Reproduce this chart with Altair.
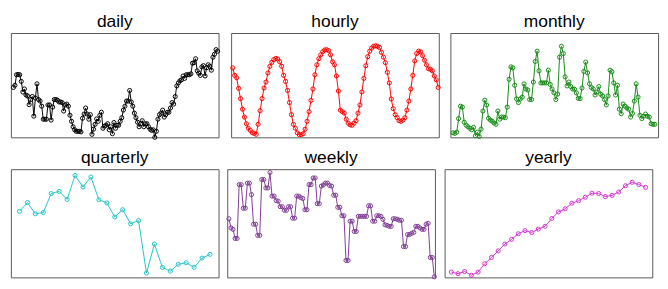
import altair as alt
import pandas as pd

daily = [165,172,207,208,207,185,150,160,140,137,108,125,135,70,130,177,125,120,103,60,60,60,107,107,57,100,125,125,123,117,117,115,87,107,110,103,73,53,35,25,20,20,20,18,63,77,97,77,60,75,10,27,43,61,53,73,83,30,37,40,45,25,35,12,49,30,40,40,53,65,90,103,120,120,155,117,103,80,65,50,35,45,55,35,45,45,35,27,23,25,0,20,60,75,80,90,67,75,83,83,97,115,110,135,170,180,187,190,203,195,207,207,207,210,245,247,260,220,212,205,233,237,203,230,240,235,222,265,275,290,285]
hourly = [230,205,197,162,128,93,67,45,30,23,15,13,10,43,88,128,163,183,213,235,248,257,261,259,250,235,205,185,155,115,75,43,30,15,9,9,12,27,53,85,122,160,207,240,260,273,283,289,290,287,273,250,240,203,153,90,85,80,60,47,41,40,47,55,80,107,150,195,237,267,285,295,301,303,301,297,281,265,247,215,180,127,95,75,65,55,53,57,65,90,120,160,205,253,277,285,283,270,255,240,227,225,220,203,190,165]
monthly = [15,13,17,62,103,100,50,40,35,30,25,33,5,17,3,27,87,123,107,63,57,53,47,43,87,60,67,67,65,100,192,233,230,172,127,115,127,133,177,160,157,125,125,183,251,285,220,180,180,180,180,222,175,160,147,125,143,265,301,277,200,170,183,168,160,159,147,129,128,163,218,249,213,177,165,160,140,150,168,143,137,125,107,137,222,217,180,140,172,93,78,110,103,97,93,67,79,120,177,133,73,62,70,77,70,67,45,43,43]
quarterly = [212,240,204,208,269,276,250,327,290,322,249,239,194,217,172,182,14,107,32,20,42,47,32,62,74]
weekly = [192,162,157,127,127,305,305,227,227,310,310,272,174,174,137,137,322,322,294,294,345,267,267,252,250,232,232,220,220,232,232,194,194,267,267,262,259,222,222,305,305,327,327,242,242,300,304,310,310,302,300,270,270,230,230,202,202,54,54,184,184,150,150,200,200,200,200,200,235,235,184,184,202,202,200,190,172,170,167,167,192,192,190,187,187,100,100,140,140,144,147,167,167,162,157,157,174,177,64,64,0]
yearly = [17,12,19,7,17,44,64,85,107,122,140,150,144,155,164,189,210,220,238,246,257,270,269,259,263,274,294,305,298,289]

titles = ["daily", "hourly", "monthly", "quarterly", "weekly", "yearly"]
series = [daily, hourly, monthly, quarterly, weekly, yearly]
colors = ["#000000", "#ff0000", "#138a13", "#22c3c8", "#7e3a93", "#d433d4"]
xpads = [(1.6, 0.6), (0.8, 0.3), (1.4, 1.7), (1.08, 1.08), (0.8, 0.3), (1.0, 1.0)]
ydoms = [(0, 345), (0, 345), (0, 345), (0, 347), (-2, 356), (0, 347)]

W = 215
H1, H2 = 108, 112


def panel(title, vals, color, xpad, ydom, h):
    df = pd.DataFrame({"i": list(range(len(vals))), "v": vals})
    x = alt.X("i:Q", axis=None,
              scale=alt.Scale(domain=[-xpad[0], len(vals) - 1 + xpad[1]], nice=False, zero=False))
    y = alt.Y("v:Q", axis=None,
              scale=alt.Scale(domain=list(ydom), nice=False, zero=False))
    base = alt.Chart(df)
    line = base.mark_line(color=color, strokeWidth=1, clip=False).encode(x=x, y=y)
    pts = base.mark_point(color=color, filled=False, size=18, strokeWidth=1, opacity=1, clip=False).encode(x=x, y=y)
    return alt.layer(line, pts).properties(width=W, height=h, title=title)


heights = [H1, H1, H1, H2, H2, H2]
charts = [panel(*args) for args in zip(titles, series, colors, xpads, ydoms, heights)]
row1 = alt.hconcat(*charts[:3], spacing=5)
row2 = alt.hconcat(*charts[3:], spacing=5)
chart = alt.vconcat(row1, row2, spacing=6).properties(padding=0).configure_view(
    stroke="#555555", strokeWidth=1
).configure_title(
    font="Liberation Sans", fontSize=18, fontWeight="normal", color="#000000", anchor="middle",
    offset=2
)

chart.save("out.html", embed_options={"renderer": "svg", "actions": False})
